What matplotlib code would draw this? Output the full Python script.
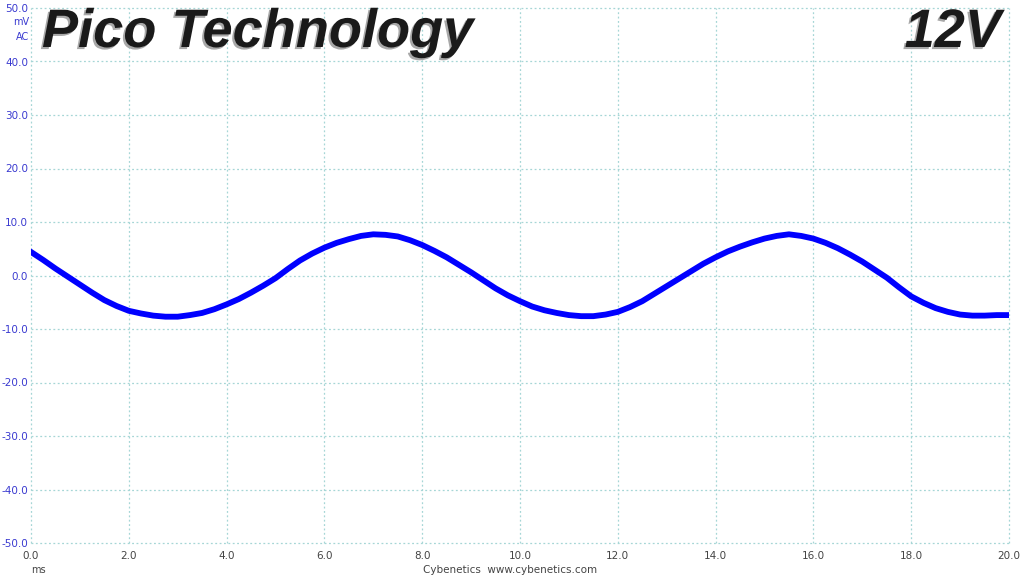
import matplotlib
matplotlib.use('Agg')
import matplotlib.pyplot as plt
import matplotlib.patheffects as pe

# Ripple waveform, every 0.25 ms (mV)
time_ms = [i * 0.25 for i in range(81)]
ripple_mv = [4.4, 2.9, 1.3, -0.2, -1.7, -3.2, -4.6, -5.7, -6.6, -7.1,
             -7.5, -7.7, -7.7, -7.4, -7.0, -6.3, -5.4, -4.4, -3.2, -1.9,
             -0.5, 1.2, 2.8, 4.1, 5.2, 6.1, 6.8, 7.4, 7.7, 7.6,
             7.3, 6.6, 5.7, 4.6, 3.4, 2.0, 0.6, -0.9, -2.4, -3.7,
             -4.8, -5.8, -6.5, -7.0, -7.4, -7.6, -7.6, -7.3, -6.8, -5.9,
             -4.8, -3.4, -2.0, -0.6, 0.8, 2.2, 3.4, 4.5, 5.4, 6.2,
             6.9, 7.4, 7.7, 7.4, 6.9, 6.1, 5.1, 3.9, 2.6, 1.1,
             -0.4, -2.2, -3.9, -5.1, -6.1, -6.8, -7.3, -7.5, -7.5, -7.4,
             -7.4]

x_ticks = [0, 2, 4, 6, 8, 10, 12, 14, 16, 18, 20]
y_ticks = [-50, -40, -30, -20, -10, 0, 10, 20, 30, 40, 50]

fig = plt.figure(figsize=(10.24, 5.76), dpi=100)
ax = fig.add_axes([31 / 1024, 1 - 543 / 576, 978 / 1024, 535 / 576])

ax.plot(time_ms, ripple_mv, color='#0000ff', linewidth=4.2,
        solid_joinstyle='round')

ax.set_xlim(0, 20)
ax.set_ylim(-50, 50)
ax.set_xticks(x_ticks)
ax.set_yticks(y_ticks)
ax.set_xticklabels(['%.1f' % v for v in x_ticks], color='#444444', fontsize=7.5)
ax.set_yticklabels(['%.1f' % v for v in y_ticks], color='#3a3ad0', fontsize=7.5)
ax.tick_params(length=0, pad=2)
ax.tick_params(axis='x', pad=6)
for s in ax.spines.values():
    s.set_visible(False)
ax.grid(True, color='#a6d6d6', linestyle=(0, (1.5, 2)), linewidth=0.9)
ax.set_axisbelow(True)
for gl in ax.get_xgridlines() + ax.get_ygridlines():
    gl.set_clip_on(False)

# unit labels
fig.text(29 / 1024, 1 - 22 / 576, 'mV', color='#3a3ad0', fontsize=7, ha='right', va='center')
fig.text(29 / 1024, 1 - 37 / 576, 'AC', color='#3a3ad0', fontsize=7, ha='right', va='center')
fig.text(38 / 1024, 1 - 570 / 576, 'ms', color='#444444', fontsize=7, ha='center', va='center')
fig.text(510 / 1024, 1 - 570 / 576, 'Cybenetics  www.cybenetics.com', color='#444444',
         fontsize=7.5, ha='center', va='center')

# headline texts with a bevelled look
fx = [pe.withSimplePatchShadow(offset=(-1.5, -1.5), shadow_rgbFace='#a8a8a8', alpha=1)]
fig.text(42 / 1024, 1 - 47 / 576, 'Pico Technology', family='Liberation Sans',
         fontsize=39, fontweight='bold', style='italic', color='#1a1a1a',
         ha='left', va='baseline', path_effects=fx)
fig.text(1001 / 1024, 1 - 47 / 576, '12V', family='Liberation Sans',
         fontsize=39, fontweight='bold', style='italic', color='#1a1a1a',
         ha='right', va='baseline', path_effects=fx)

fig.savefig('out.png', dpi=100)
